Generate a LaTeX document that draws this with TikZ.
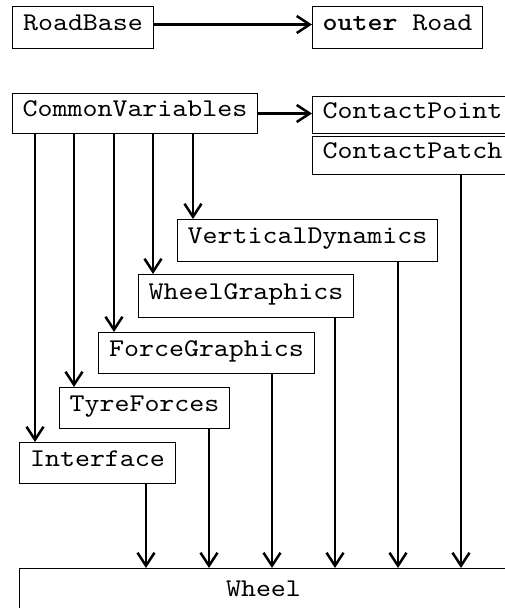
\documentclass[tikz,border=0pt]{standalone}
\usepackage{fontspec}
\newfontfamily\codefont{lmmono10-regular}[Extension=.otf, BoldFont=lmmonolt10-bold, FakeStretch=1.12]
\usetikzlibrary{arrows.meta}

\tikzset{
  box/.style={draw, line width=1pt, inner sep=0pt, anchor=north west,
              text height=0.61em, text depth=0pt,
              font=\codefont\fontsize{25.5}{30}\selectfont},
  flow/.style={line width=2.5pt, -{Straight Barb[length=13pt,width=17pt,line width=2.5pt]}}
}

\begin{document}
\begin{tikzpicture}[x=1pt, y=-1pt]
  \useasboundingbox (0,0) rectangle (505,608);
  \clip (0,0) rectangle (505,608);

  % classes
  \node[box, minimum width=141pt, minimum height=42pt] (rb)     at (12,6)    {RoadBase};
  \node[box, minimum width=170pt, minimum height=42pt] (road)   at (312,6)   {\textbf{outer} Road};
  \node[box, minimum width=245pt, minimum height=40pt] (cv)     at (12,93)   {CommonVariables};
  \node[box, minimum width=200pt, minimum height=37pt] (cp)     at (312,96)  {ContactPoint};
  \node[box, minimum width=200pt, minimum height=38pt] (cpatch) at (312,136) {ContactPatch};
  \node[box, minimum width=260pt, minimum height=42pt] (vd)     at (177,219) {VerticalDynamics};
  \node[box, minimum width=215pt, minimum height=43pt] (wg)     at (138,274) {WheelGraphics};
  \node[box, minimum width=216pt, minimum height=41pt] (fg)     at (98,332)  {ForceGraphics};
  \node[box, minimum width=170pt, minimum height=41pt] (tf)     at (59,387)  {TyreForces};
  \node[box, minimum width=156pt, minimum height=41pt] (if)     at (19,442)  {Interface};
  \node[box, minimum width=488pt, text height=28pt, text depth=40pt] (wheel) at (19,568) {Wheel};

  % horizontal relations
  \draw[flow] ([yshift=3pt]rb.east) -- ([yshift=3pt]road.west);
  \draw[flow] (cv.east) -- (cp.west |- cv.east);

  % columns leaving CommonVariables
  \coordinate (i1) at (35,0);
  \coordinate (i2) at (74,0);
  \coordinate (i3) at (114,0);
  \coordinate (i4) at (153,0);
  \coordinate (i5) at (193,0);
  \draw[flow] (cv.south -| i1) -- (if.north -| i1);
  \draw[flow] (cv.south -| i2) -- (tf.north -| i2);
  \draw[flow] (cv.south -| i3) -- (fg.north -| i3);
  \draw[flow] (cv.south -| i4) -- (wg.north -| i4);
  \draw[flow] (cv.south -| i5) -- (vd.north -| i5);

  % columns entering Wheel
  \coordinate (o1) at (146,0);
  \coordinate (o2) at (209,0);
  \coordinate (o3) at (272,0);
  \coordinate (o4) at (335,0);
  \coordinate (o5) at (398,0);
  \coordinate (o6) at (461,0);
  \draw[flow] (if.south -| o1)     -- (wheel.north -| o1);
  \draw[flow] (tf.south -| o2)     -- (wheel.north -| o2);
  \draw[flow] (fg.south -| o3)     -- (wheel.north -| o3);
  \draw[flow] (wg.south -| o4)     -- (wheel.north -| o4);
  \draw[flow] (vd.south -| o5)     -- (wheel.north -| o5);
  \draw[flow] (cpatch.south -| o6) -- (wheel.north -| o6);
\end{tikzpicture}
\end{document}
